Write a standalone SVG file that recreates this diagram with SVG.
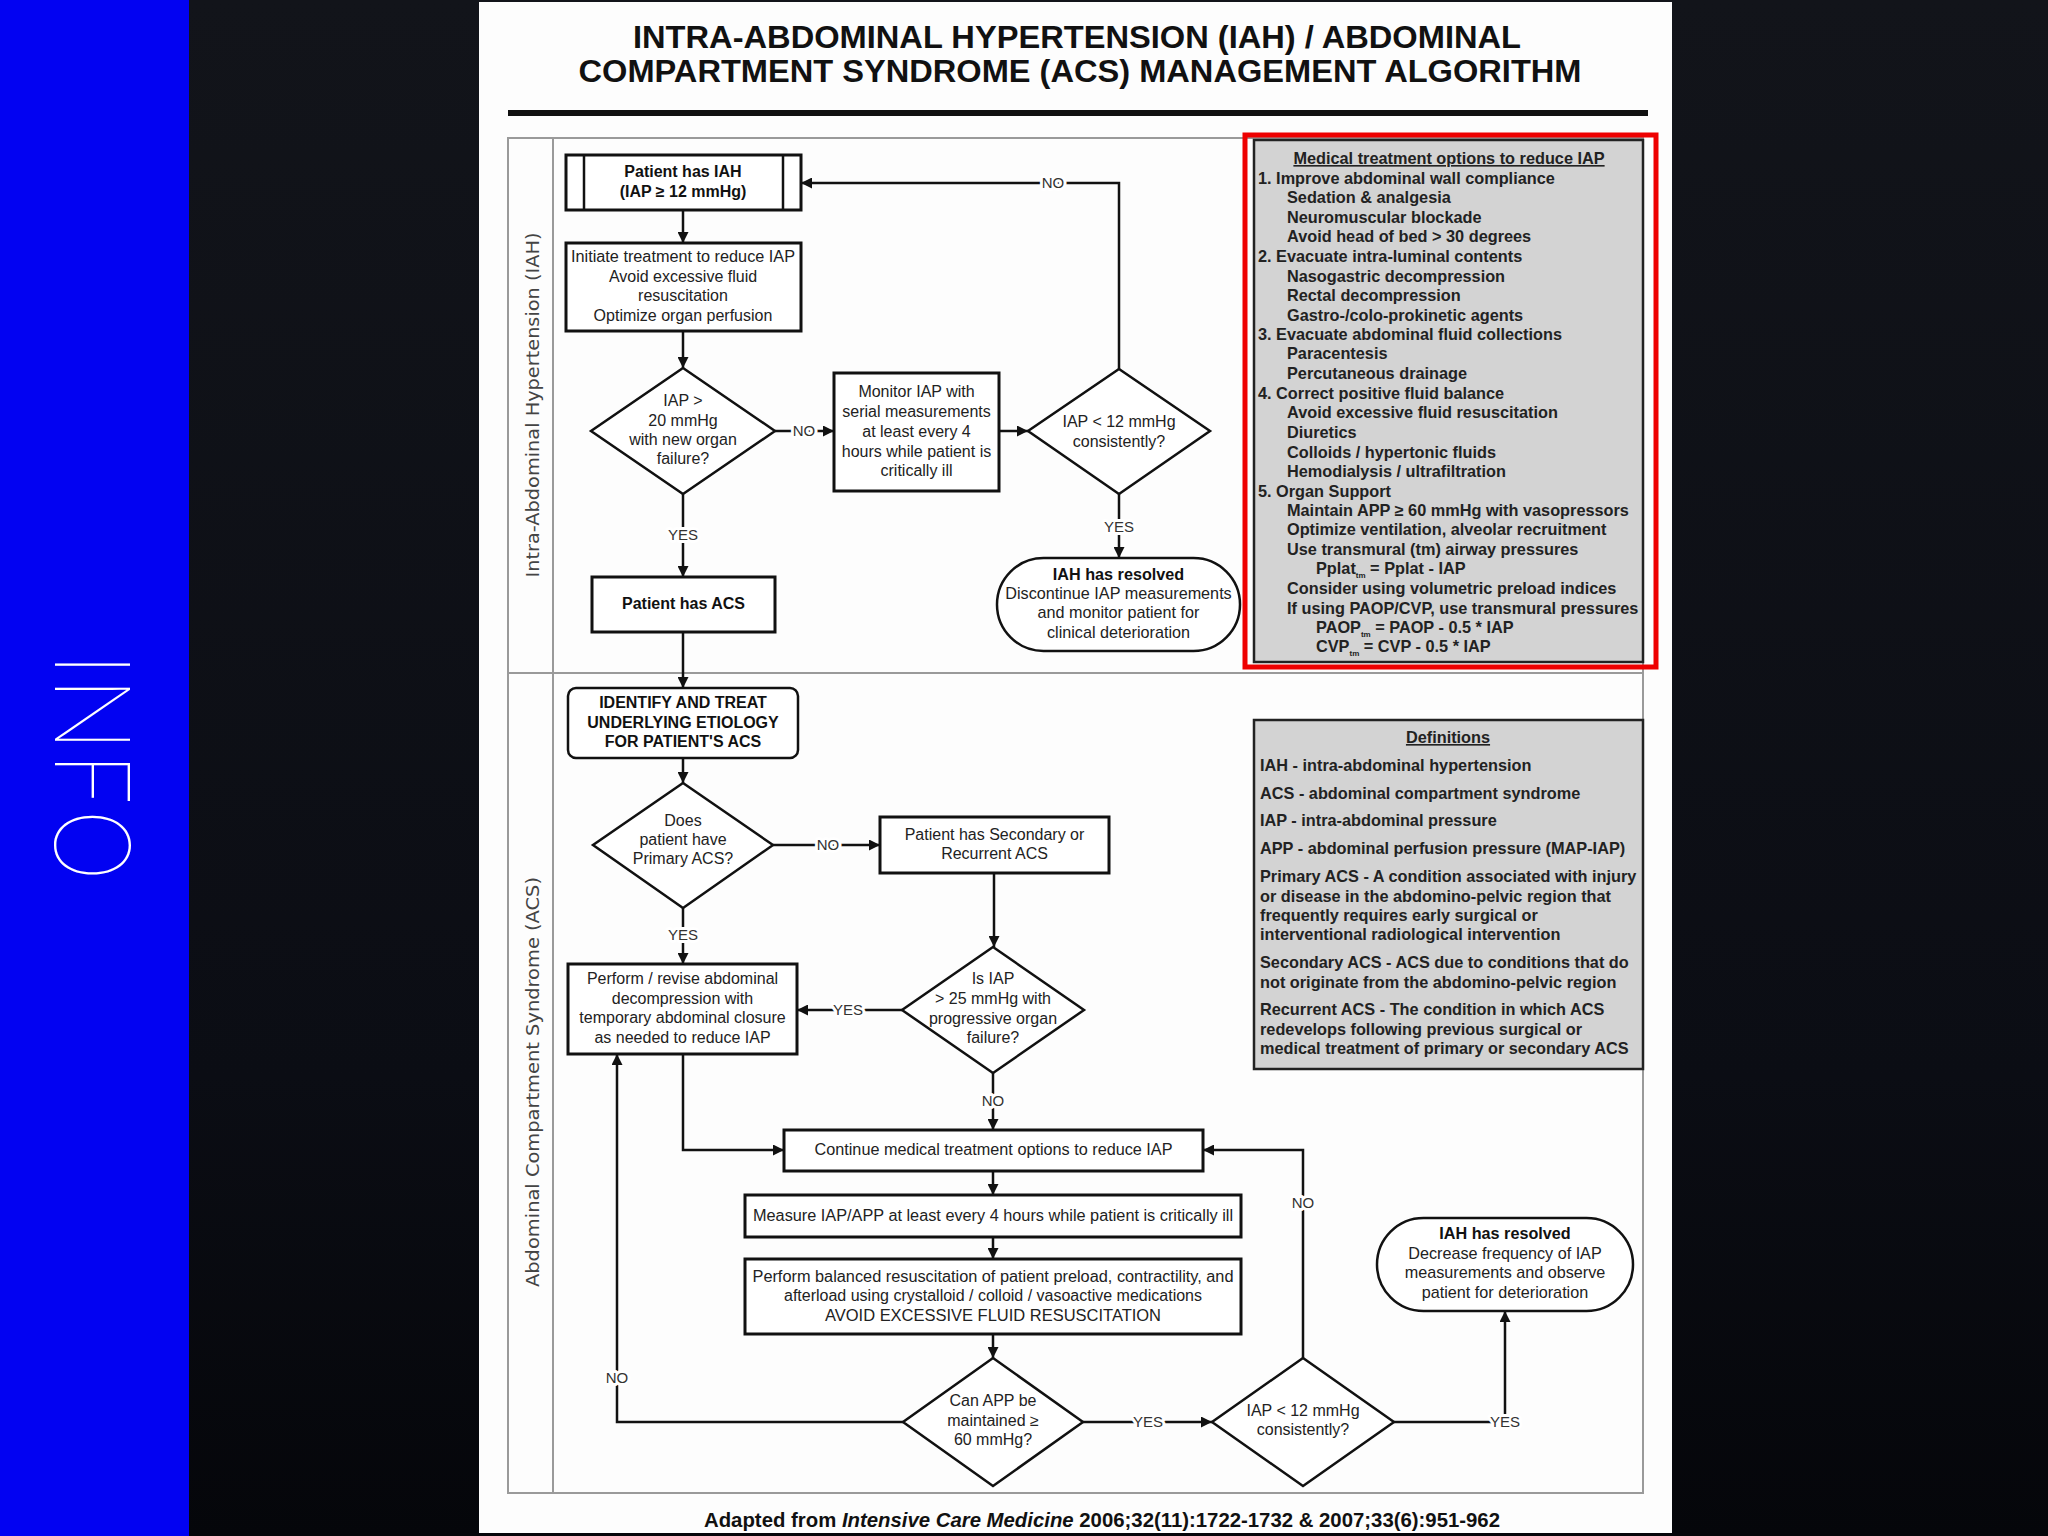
<svg xmlns="http://www.w3.org/2000/svg" width="2048" height="1536" viewBox="0 0 2048 1536">
<defs>
<linearGradient id="bg" x1="0" y1="0" x2="0" y2="1">
<stop offset="0" stop-color="#12141a"/>
<stop offset="0.7" stop-color="#0b0d14"/>
<stop offset="1" stop-color="#05060a"/>
</linearGradient>
<marker id="ah" viewBox="0 0 10 10" refX="10" refY="5" markerWidth="11" markerHeight="11" markerUnits="userSpaceOnUse" orient="auto"><path d="M0,0 L10,5 L0,10 z" fill="#111"/></marker>
<style>
.t{font-family:"Liberation Sans",Arial,sans-serif;font-size:16px;fill:#222;text-anchor:middle}
.tb{font-family:"Liberation Sans",Arial,sans-serif;font-size:16px;font-weight:bold;fill:#111;text-anchor:middle}
.tt{font-family:"Liberation Sans",Arial,sans-serif;font-size:16.2px;fill:#222;text-anchor:middle}
.ttb{font-family:"Liberation Sans",Arial,sans-serif;font-size:16.2px;font-weight:bold;fill:#111;text-anchor:middle}
.box{fill:#fff;stroke:#111;stroke-width:3}
.dia{fill:#fff;stroke:#111;stroke-width:2.5}
.conn{fill:none;stroke:#111;stroke-width:2.5;marker-end:url(#ah)}
.line{fill:none;stroke:#111;stroke-width:2.5}
.lb{font-family:"Liberation Sans",Arial,sans-serif;font-size:15px;fill:#333;text-anchor:middle;paint-order:stroke;stroke:#fff;stroke-width:6px;stroke-linejoin:round}
.g{font-family:"Liberation Sans",Arial,sans-serif;font-size:16.3px;font-weight:bold;fill:#222}
.gbox{fill:#d3d3d3;stroke:#222;stroke-width:2.5}
.lane{font-family:"DejaVu Sans",Verdana,sans-serif;font-size:18px;fill:#444;text-anchor:middle}
</style>
</defs>
<rect x="0" y="0" width="2048" height="1536" fill="url(#bg)"/>
<rect x="0" y="0" width="189" height="1536" fill="#0202f2"/>
<text transform="translate(55,767) rotate(90)" font-family="Inter,'Liberation Sans',sans-serif" font-weight="100" font-size="103" fill="#fff" text-anchor="middle" textLength="229" lengthAdjust="spacingAndGlyphs">INFO</text>
<rect x="479" y="2" width="1193" height="1531" fill="#fdfdfd"/>

<g id="title">
<text x="1077" y="48" font-family="'Liberation Sans',Arial,sans-serif" font-weight="bold" font-size="32" fill="#111" text-anchor="middle" textLength="888" lengthAdjust="spacingAndGlyphs">INTRA-ABDOMINAL HYPERTENSION (IAH) / ABDOMINAL</text>
<text x="1080" y="82" font-family="'Liberation Sans',Arial,sans-serif" font-weight="bold" font-size="32" fill="#111" text-anchor="middle" textLength="1003" lengthAdjust="spacingAndGlyphs">COMPARTMENT SYNDROME (ACS) MANAGEMENT ALGORITHM</text>
<rect x="508" y="110" width="1140" height="6" fill="#111"/>
</g>

<g id="lanes">
<rect x="508" y="138" width="1135" height="1355" fill="none" stroke="#9a9a9a" stroke-width="2"/>
<line x1="553" y1="138" x2="553" y2="1493" stroke="#9a9a9a" stroke-width="2"/>
<line x1="508" y1="673" x2="1643" y2="673" stroke="#9a9a9a" stroke-width="2"/>
<text class="lane" transform="translate(539,405) rotate(-90)" textLength="345" lengthAdjust="spacingAndGlyphs">Intra-Abdominal Hypertension (IAH)</text>
<text class="lane" transform="translate(539,1082) rotate(-90)" textLength="410" lengthAdjust="spacingAndGlyphs">Abdominal Compartment Syndrome (ACS)</text>
</g>

<g id="medical-options">
<rect class="gbox" x="1254" y="140" width="389" height="522"/>
<text class="g" x="1449" y="164" text-anchor="middle" text-decoration="underline">Medical treatment options to reduce IAP</text>
<text class="g" x="1258" y="184">1. Improve abdominal wall compliance</text>
<text class="g" x="1287" y="203">Sedation &amp; analgesia</text>
<text class="g" x="1287" y="223">Neuromuscular blockade</text>
<text class="g" x="1287" y="242">Avoid head of bed &gt; 30 degrees</text>
<text class="g" x="1258" y="262">2. Evacuate intra-luminal contents</text>
<text class="g" x="1287" y="282">Nasogastric decompression</text>
<text class="g" x="1287" y="301">Rectal decompression</text>
<text class="g" x="1287" y="321">Gastro-/colo-prokinetic agents</text>
<text class="g" x="1258" y="340">3. Evacuate abdominal fluid collections</text>
<text class="g" x="1287" y="359">Paracentesis</text>
<text class="g" x="1287" y="379">Percutaneous drainage</text>
<text class="g" x="1258" y="399">4. Correct positive fluid balance</text>
<text class="g" x="1287" y="418">Avoid excessive fluid resuscitation</text>
<text class="g" x="1287" y="438">Diuretics</text>
<text class="g" x="1287" y="458">Colloids / hypertonic fluids</text>
<text class="g" x="1287" y="477">Hemodialysis / ultrafiltration</text>
<text class="g" x="1258" y="497">5. Organ Support</text>
<text class="g" x="1287" y="516">Maintain APP ≥ 60 mmHg with vasopressors</text>
<text class="g" x="1287" y="535">Optimize ventilation, alveolar recruitment</text>
<text class="g" x="1287" y="555">Use transmural (tm) airway pressures</text>
<text class="g" x="1316" y="574">Pplat<tspan font-size="8" dy="4">tm</tspan><tspan dy="-4"> = Pplat - IAP</tspan></text>
<text class="g" x="1287" y="594">Consider using volumetric preload indices</text>
<text class="g" x="1287" y="614">If using PAOP/CVP, use transmural pressures</text>
<text class="g" x="1316" y="633">PAOP<tspan font-size="8" dy="4">tm</tspan><tspan dy="-4"> = PAOP - 0.5 * IAP</tspan></text>
<text class="g" x="1316" y="652">CVP<tspan font-size="8" dy="4">tm</tspan><tspan dy="-4"> = CVP - 0.5 * IAP</tspan></text>
<rect x="1245" y="135" width="411" height="532" fill="none" stroke="#ee0000" stroke-width="5"/>
</g>

<g id="definitions">
<rect class="gbox" x="1254" y="720" width="389" height="349"/>
<text class="g" x="1448" y="743" text-anchor="middle" text-decoration="underline">Definitions</text>
<text class="g" x="1260" y="771">IAH - intra-abdominal hypertension</text>
<text class="g" x="1260" y="799">ACS - abdominal compartment syndrome</text>
<text class="g" x="1260" y="826">IAP - intra-abdominal pressure</text>
<text class="g" x="1260" y="854">APP - abdominal perfusion pressure (MAP-IAP)</text>
<text class="g" x="1260" y="882">Primary ACS - A condition associated with injury</text>
<text class="g" x="1260" y="902">or disease in the abdomino-pelvic region that</text>
<text class="g" x="1260" y="921">frequently requires early surgical or</text>
<text class="g" x="1260" y="940">interventional radiological intervention</text>
<text class="g" x="1260" y="968">Secondary ACS - ACS due to conditions that do</text>
<text class="g" x="1260" y="988">not originate from the abdomino-pelvic region</text>
<text class="g" x="1260" y="1015">Recurrent ACS - The condition in which ACS</text>
<text class="g" x="1260" y="1035">redevelops following previous surgical or</text>
<text class="g" x="1260" y="1054">medical treatment of primary or secondary ACS</text>
</g>

<g id="connectors">
<path class="conn" d="M683,210 V243"/>
<path class="conn" d="M683,331 V368"/>
<path class="conn" d="M775,431 H834"/>
<path class="conn" d="M999,431 H1028"/>
<path class="conn" d="M1119,369 V183 H801"/>
<path class="conn" d="M1119,494 V558"/>
<path class="conn" d="M683,494 V577"/>
<path class="conn" d="M683,632 V688"/>
<path class="conn" d="M683,758 V783"/>
<path class="conn" d="M773,845 H880"/>
<path class="conn" d="M994,873 V947"/>
<path class="conn" d="M902,1010 H797"/>
<path class="conn" d="M683,908 V964"/>
<path class="conn" d="M993,1073 V1130"/>
<path class="conn" d="M683,1054 V1150 H784"/>
<path class="conn" d="M993,1171 V1195"/>
<path class="conn" d="M993,1237 V1259"/>
<path class="conn" d="M993,1334 V1358"/>
<path class="conn" d="M903,1422 H617 V1054"/>
<path class="conn" d="M1083,1422 H1212"/>
<path class="conn" d="M1303,1358 V1150 H1203"/>
<path class="conn" d="M1394,1422 H1505 V1311"/>
<text class="lb" x="804" y="436">NO</text>
<text class="lb" x="1053" y="188">NO</text>
<text class="lb" x="1119" y="532">YES</text>
<text class="lb" x="683" y="540">YES</text>
<text class="lb" x="828" y="850">NO</text>
<text class="lb" x="848" y="1015">YES</text>
<text class="lb" x="683" y="940">YES</text>
<text class="lb" x="993" y="1106">NO</text>
<text class="lb" x="617" y="1383">NO</text>
<text class="lb" x="1148" y="1427">YES</text>
<text class="lb" x="1303" y="1208">NO</text>
<text class="lb" x="1505" y="1427">YES</text>
</g>

<g id="n-iah">
<rect class="box" x="566" y="155" width="235" height="55"/>
<line class="line" x1="584" y1="155" x2="584" y2="210"/>
<line class="line" x1="783" y1="155" x2="783" y2="210"/>
<text class="tb" x="683" y="177">Patient has IAH</text>
<text class="tb" x="683" y="197">(IAP ≥ 12 mmHg)</text>
</g>
<g id="n-initiate">
<rect class="box" x="566" y="243" width="235" height="88"/>
<text class="t" x="683" y="262" textLength="224" lengthAdjust="spacingAndGlyphs">Initiate treatment to reduce IAP</text>
<text class="t" x="683" y="281.5">Avoid excessive fluid</text>
<text class="t" x="683" y="301">resuscitation</text>
<text class="t" x="683" y="320.5">Optimize organ perfusion</text>
</g>
<g id="n-d1">
<polygon class="dia" points="683,368 775,431 683,494 591,431"/>
<text class="t" x="683" y="406">IAP &gt;</text>
<text class="t" x="683" y="426">20 mmHg</text>
<text class="t" x="683" y="445">with new organ</text>
<text class="t" x="683" y="464">failure?</text>
</g>
<g id="n-monitor">
<rect class="box" x="834" y="373" width="165" height="118"/>
<text class="t" x="916.5" y="397">Monitor IAP with</text>
<text class="t" x="916.5" y="417">serial measurements</text>
<text class="t" x="916.5" y="437">at least every 4</text>
<text class="t" x="916.5" y="457">hours while patient is</text>
<text class="t" x="916.5" y="476">critically ill</text>
</g>
<g id="n-d2">
<polygon class="dia" points="1119,369 1210,431 1119,494 1028,431"/>
<text class="t" x="1119" y="427">IAP &lt; 12 mmHg</text>
<text class="t" x="1119" y="447">consistently?</text>
</g>
<g id="n-resolved1">
<rect class="box" x="997" y="558" width="243" height="93" rx="46.5" ry="46.5" style="stroke-width:2.5"/>
<text class="ttb" x="1118.5" y="580">IAH has resolved</text>
<text class="tt" x="1118.5" y="599">Discontinue IAP measurements</text>
<text class="tt" x="1118.5" y="618">and monitor patient for</text>
<text class="tt" x="1118.5" y="638">clinical deterioration</text>
</g>
<g id="n-acs">
<rect class="box" x="592" y="577" width="183" height="55"/>
<text class="tb" x="683.5" y="609">Patient has ACS</text>
</g>
<g id="n-identify">
<rect class="box" x="568" y="688" width="230" height="70" rx="8" ry="8" style="stroke-width:2.5"/>
<text class="tb" x="683" y="708">IDENTIFY AND TREAT</text>
<text class="tb" x="683" y="728">UNDERLYING ETIOLOGY</text>
<text class="tb" x="683" y="747">FOR PATIENT'S ACS</text>
</g>
<g id="n-d3">
<polygon class="dia" points="683,783 773,845 683,908 593,845"/>
<text class="t" x="683" y="826">Does</text>
<text class="t" x="683" y="845">patient have</text>
<text class="t" x="683" y="864">Primary ACS?</text>
</g>
<g id="n-secondary">
<rect class="box" x="880" y="817" width="229" height="56"/>
<text class="t" x="994.5" y="840">Patient has Secondary or</text>
<text class="t" x="994.5" y="859">Recurrent ACS</text>
</g>
<g id="n-d4">
<polygon class="dia" points="993,947 1084,1010 993,1073 902,1010"/>
<text class="t" x="993" y="984">Is IAP</text>
<text class="t" x="993" y="1004">&gt; 25 mmHg with</text>
<text class="t" x="993" y="1024">progressive organ</text>
<text class="t" x="993" y="1043">failure?</text>
</g>
<g id="n-decompress">
<rect class="box" x="568" y="964" width="229" height="90"/>
<text class="t" x="682.5" y="984">Perform / revise abdominal</text>
<text class="t" x="682.5" y="1004">decompression with</text>
<text class="t" x="682.5" y="1023">temporary abdominal closure</text>
<text class="t" x="682.5" y="1043">as needed to reduce IAP</text>
</g>
<g id="n-continue">
<rect class="box" x="784" y="1130" width="419" height="41"/>
<text class="t" x="993.5" y="1155" textLength="358" lengthAdjust="spacingAndGlyphs">Continue medical treatment options to reduce IAP</text>
</g>
<g id="n-measure">
<rect class="box" x="745" y="1195" width="496" height="42"/>
<text class="t" x="993" y="1221" textLength="480" lengthAdjust="spacingAndGlyphs">Measure IAP/APP at least every 4 hours while patient is critically ill</text>
</g>
<g id="n-resus">
<rect class="box" x="745" y="1259" width="496" height="75"/>
<text class="t" x="993" y="1282" textLength="481" lengthAdjust="spacingAndGlyphs">Perform balanced resuscitation of patient preload, contractility, and</text>
<text class="t" x="993" y="1301">afterload using crystalloid / colloid / vasoactive medications</text>
<text class="t" x="993" y="1321" textLength="336" lengthAdjust="spacingAndGlyphs">AVOID EXCESSIVE FLUID RESUSCITATION</text>
</g>
<g id="n-d5">
<polygon class="dia" points="993,1358 1083,1422 993,1486 903,1422"/>
<text class="t" x="993" y="1406">Can APP be</text>
<text class="t" x="993" y="1426">maintained ≥</text>
<text class="t" x="993" y="1445">60 mmHg?</text>
</g>
<g id="n-d6">
<polygon class="dia" points="1303,1358 1394,1422 1303,1486 1212,1422"/>
<text class="t" x="1303" y="1416">IAP &lt; 12 mmHg</text>
<text class="t" x="1303" y="1435">consistently?</text>
</g>
<g id="n-resolved2">
<rect class="box" x="1377" y="1218" width="256" height="93" rx="46.5" ry="46.5" style="stroke-width:2.5"/>
<text class="ttb" x="1505" y="1239">IAH has resolved</text>
<text class="tt" x="1505" y="1259">Decrease frequency of IAP</text>
<text class="tt" x="1505" y="1278">measurements and observe</text>
<text class="tt" x="1505" y="1298">patient for deterioration</text>
</g>

<g id="footer">
<text x="1102" y="1527" font-family="'Liberation Sans',Arial,sans-serif" font-weight="bold" font-size="21" fill="#111" text-anchor="middle" textLength="796" lengthAdjust="spacingAndGlyphs">Adapted from <tspan font-style="italic">Intensive Care Medicine</tspan> 2006;32(11):1722-1732 &amp; 2007;33(6):951-962</text>
</g>
</svg>
